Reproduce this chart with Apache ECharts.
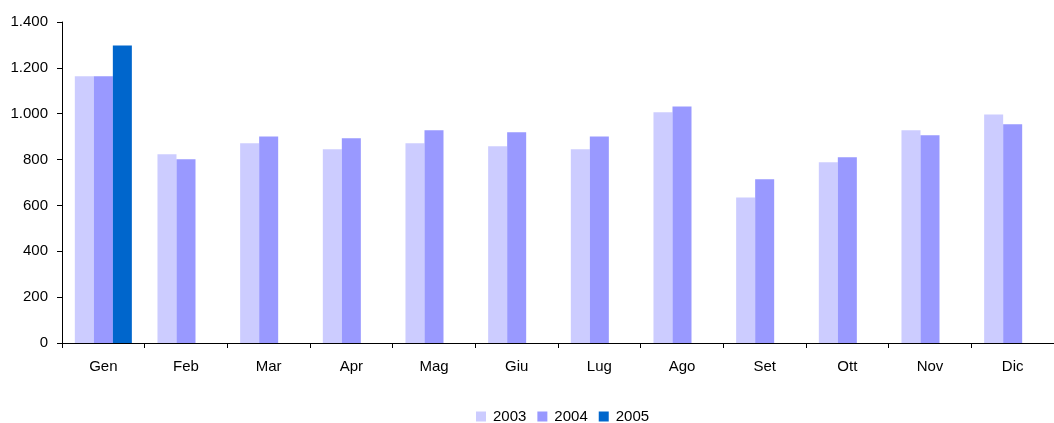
<!DOCTYPE html>
<html>
<head>
<meta charset="utf-8">
<script src="https://cdn.jsdelivr.net/npm/echarts@6/dist/echarts.min.js"></script>
<style>html,body{margin:0;padding:0;background:#fff}#c{width:1054px;height:423px}</style>
</head>
<body>
<div id="c"></div>
<script>
const categories = ['Gen','Feb','Mar','Apr','Mag','Giu','Lug','Ago','Set','Ott','Nov','Dic'];
const years = ['2003','2004','2005'];
const values2003 = [1163, 823, 871, 845, 871, 858, 845, 1006, 635, 788, 928, 997];
const values2004 = [1163, 801, 901, 893, 928, 919, 901, 1032, 714, 810, 906, 954];
const values2005 = [1298, null, null, null, null, null, null, null, null, null, null, null];
const yTicks = [0, 200, 400, 600, 800, 1000, 1200, 1400];
const colors = ['#CCCCFF', '#9999FF', '#0066CC'];

function fmt(v){ return String(v).replace(/\B(?=(\d{3})+(?!\d))/g, '.'); }

const chart = echarts.init(document.getElementById('c'), null, {renderer:'canvas'});
const font = 'Liberation Sans, Arial, sans-serif';
chart.setOption({
  animation:false,
  backgroundColor:'#fff',
  textStyle:{fontFamily:font},
  grid:{left:62, right:0, top:22, bottom:80, containLabel:false},
  legend:{
    data:years, left:476, top:409, padding:0, itemWidth:10, itemHeight:10, itemGap:11,
    icon:'rect',
    textStyle:{fontFamily:font, fontSize:15, color:'#000', padding:[0,0,0,2]}
  },
  xAxis:{
    type:'category', data:categories,
    axisLine:{lineStyle:{color:'#000', width:1}},
    axisTick:{show:true, length:5, lineStyle:{color:'#000'}, alignWithLabel:false},
    axisLabel:{color:'#000', fontSize:15, fontFamily:font, margin:16}
  },
  yAxis:{
    type:'value', min:yTicks[0], max:yTicks[yTicks.length-1], interval:200,
    axisLine:{show:true, lineStyle:{color:'#000', width:1}},
    axisTick:{show:true, length:5, lineStyle:{color:'#000'}},
    splitLine:{show:false},
    axisLabel:{color:'#000', fontSize:15, fontFamily:font, margin:14, formatter:fmt}
  },
  series:[
    {name:years[0], type:'bar', data:values2003, itemStyle:{color:colors[0]}, barGap:'0%', barCategoryGap:'31%'},
    {name:years[1], type:'bar', data:values2004, itemStyle:{color:colors[1]}, barGap:'0%', barCategoryGap:'31%'},
    {name:years[2], type:'bar', data:values2005, itemStyle:{color:colors[2]}, barGap:'0%', barCategoryGap:'31%'}
  ]
});
</script>
</body>
</html>
